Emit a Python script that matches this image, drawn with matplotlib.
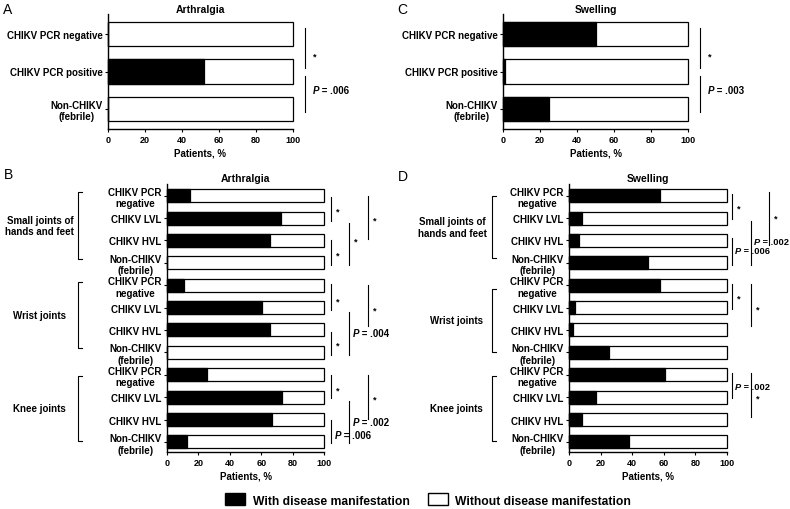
import matplotlib
matplotlib.use("Agg")
import matplotlib.pyplot as plt
from matplotlib.patches import Patch
import numpy as np

plt.rcParams['font.family'] = ['Liberation Sans', 'DejaVu Sans']
plt.rcParams['font.weight'] = 'bold'

W, H = 790, 510

# ---- data ----
top_cats = ["CHIKV PCR negative", "CHIKV PCR positive", "Non-CHIKV\n(febrile)"]
arthralgia_top = [0, 52, 0]
swelling_top = [50, 1, 25]

sub_cats = ["CHIKV PCR\nnegative", "CHIKV LVL", "CHIKV HVL", "Non-CHIKV\n(febrile)"]
groups = ["Small joints of\nhands and feet", "Wrist joints", "Knee joints"]
arthralgia_joint = [
    [14.5, 72.5, 65.5, 0],    # small joints
    [11, 60.5, 65.5, 0],      # wrist
    [25.5, 73.5, 67, 12.5],   # knee
]
swelling_joint = [
    [57.5, 8, 6.5, 50],
    [57.5, 4, 2.3, 25.5],
    [61, 17, 8.5, 38],
]

# significance marks: (line x in %, y from, y to, label, label y)
sig_a = [(106.5, -0.17, 0.9, "*", 0.47), (106.5, 1.11, 2.08, "P = .006", 1.49)]
sig_c = [(106.5, -0.17, 0.9, "*", 0.47), (106.5, 1.11, 2.08, "P = .003", 1.49)]
sig_b = [
    (104.5, 0.05, 1.12, "*", 0.6), (115.9, 1.2, 3.12, "*", 1.94), (104.5, 1.98, 3.12, "*", 2.56),
    (128, 0.0, 1.94, "*", 1.0),
    (104.5, 3.94, 5.1, "*", 4.61), (128, 3.99, 5.81, "*", 5.01), (115.9, 5.19, 7.12, "P = .004", 6.12),
    (104.5, 6.08, 7.1, "*", 6.57),
    (104.5, 7.99, 9.06, "*", 8.57), (128, 7.99, 9.96, "*", 8.98), (115.9, 9.15, 11.07, "P = .002", 10.13),
    (104.5, 10.04, 11.07, "P = .006", 10.71),
]
sig_d = [
    (103.2, -0.07, 1.05, "*", 0.47), (126.6, -0.16, 2.2, "*", 0.91), (115.2, 1.14, 3.12, "P = .002", 2.03),
    (103.2, 1.89, 3.12, "P = .006", 2.47),
    (103.2, 3.94, 5.06, "*", 4.48), (115.2, 3.94, 5.81, "*", 4.97),
    (103.2, 7.9, 9.03, "P = .002", 8.53), (115.2, 7.9, 9.87, "*", 8.93),
]


def px_axes(fig, left, top, right, bottom):
    return fig.add_axes([left / W, 1 - bottom / H, (right - left) / W, (bottom - top) / H])


def style_axes(ax, labels, ylim):
    ax.set_xlim(0, 100)
    ax.set_ylim(*ylim)
    ax.set_xticks(np.arange(0, 101, 20))
    ax.set_yticks(np.arange(len(labels)))
    ax.set_yticklabels(labels, fontsize=7, fontweight='bold', multialignment='center')
    for lab in ax.get_xticklabels():
        lab.set_fontsize(6.5)
        lab.set_fontweight('bold')
    ax.tick_params(axis='both', direction='out', length=2.5, width=0.8, pad=1.5)
    for s in ('top', 'right'):
        ax.spines[s].set_visible(False)
    for s in ('left', 'bottom'):
        ax.spines[s].set_linewidth(1.0)
    ax.set_xlabel("Patients, %", fontsize=7, fontweight='bold', labelpad=3)


def draw_bars(ax, values, height):
    pos = np.arange(len(values))
    ax.barh(pos, [100] * len(values), height=height, color='white', edgecolor='black',
            linewidth=0.9, clip_on=False)
    ax.barh(pos, values, height=height, color='black', edgecolor='black', linewidth=0.9,
            clip_on=False)


def draw_sig(ax, marks, dx, pdx, fs=7):
    for x, y0, y1, lab, ly in marks:
        ax.plot([x, x], [y0, y1], color='black', lw=0.8, clip_on=False)
        if lab == "*":
            ax.text(x + dx, ly + 0.1, "*", fontsize=6.5, ha='left', va='center')
        else:
            rest = lab.split(" ", 1)[1]
            t = ax.text(x + pdx, ly, "P", fontsize=fs, style='italic', ha='left', va='center')
            ax.annotate(" " + rest, xycoords=t, xy=(1, 0.5), va='center', ha='left',
                        fontsize=fs, annotation_clip=False)


def draw_groups(ax, spans, bx, lx):
    for (y0, y1), name, x_lab in zip(spans, groups, lx):
        ax.plot([bx + 2.5, bx, bx, bx + 2.5], [y0, y0, y1, y1], color='black', lw=0.8, clip_on=False)
        ax.text(x_lab, (y0 + y1) / 2, name, fontsize=7, ha='center', va='center', multialignment='center')


fig = plt.figure(figsize=(W / 100, H / 100), dpi=100)

# A
axA = px_axes(fig, 108, 15, 293, 130)
draw_bars(axA, arthralgia_top, 0.65)
style_axes(axA, top_cats, (2.55, -0.55))
axA.set_title("Arthralgia", fontsize=7.5, fontweight='bold', pad=1)
draw_sig(axA, sig_a, 4.3, 4.3)

# C
axC = px_axes(fig, 503, 15, 688, 130)
draw_bars(axC, swelling_top, 0.65)
style_axes(axC, top_cats, (2.55, -0.55))
axC.set_title("Swelling", fontsize=7.5, fontweight='bold', pad=1)
draw_sig(axC, sig_c, 4.3, 4.3)

# B
axB = px_axes(fig, 167, 185, 324, 453)
draw_bars(axB, [v for g in arthralgia_joint for v in g], 0.58)
style_axes(axB, sub_cats * 3, (11.45, -0.52))
axB.set_title("Arthralgia", fontsize=7.5, fontweight='bold', pad=2)
draw_sig(axB, sig_b, 3.2, 2.5)
draw_groups(axB, [(-0.16, 2.83), (3.85, 6.79), (8.04, 10.94)], -56.7, [-81, -81, -81])

# D
axD = px_axes(fig, 569, 185, 727, 453)
draw_bars(axD, [v for g in swelling_joint for v in g], 0.58)
style_axes(axD, sub_cats * 3, (11.45, -0.52))
axD.set_title("Swelling", fontsize=7.5, fontweight='bold', pad=2)
draw_sig(axD, sig_d, 3.2, 1.6, fs=6.7)
draw_groups(axD, [(0.02, 2.78), (4.16, 6.97), (8.04, 10.94)], -48.7, [-74, -71, -71])

# panel letters
for letter, x, y in [("A", 3, 10), ("C", 397, 10), ("B", 4, 175), ("D", 398, 177)]:
    fig.text(x / W, 1 - y / H, letter, fontsize=10, fontweight='normal', ha='left', va='center')

handles = [Patch(facecolor='black', edgecolor='black', label="With disease manifestation"),
           Patch(facecolor='white', edgecolor='black', label="Without disease manifestation")]
fig.legend(handles=handles, loc='center', bbox_to_anchor=(428 / W, 1 - 501 / H), ncol=2,
           frameon=False, fontsize=8.7, handlelength=1.65, handleheight=1.15, columnspacing=1.5,
           handletextpad=0.65)

fig.savefig("out.png", dpi=100)
